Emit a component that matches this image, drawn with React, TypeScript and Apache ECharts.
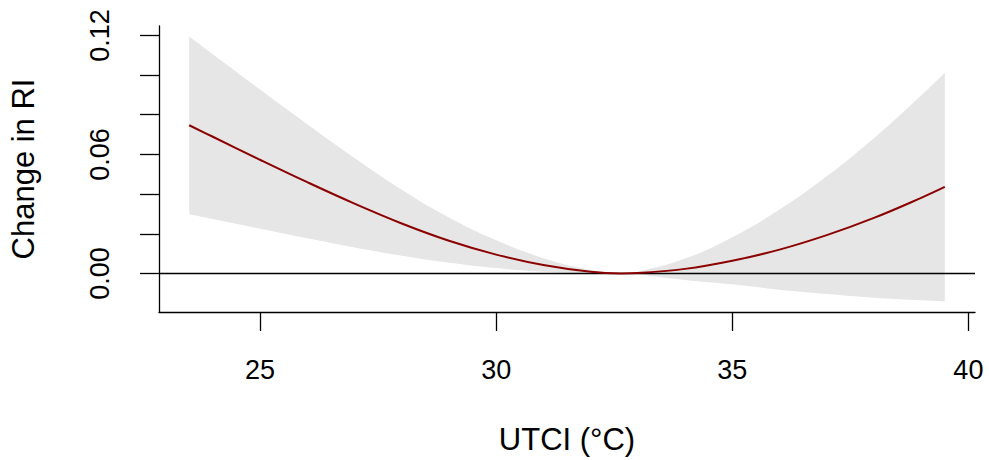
import React, { useEffect, useRef } from "react";
import * as echarts from "echarts";

const xs = [23.5, 24, 25, 26, 27, 28, 29, 30, 31, 32, 32.65, 33, 34, 35, 36, 37, 38, 39, 39.5];
const mid = [0.0747, 0.0689, 0.0573, 0.046, 0.0352, 0.0252, 0.0165, 0.0095, 0.0042, 0.0008, 0, 0.0002, 0.0023, 0.0064, 0.012, 0.0193, 0.028, 0.0381, 0.0436];
const upper = [0.1194, 0.1105, 0.0927, 0.0752, 0.0582, 0.0422, 0.0282, 0.0167, 0.0077, 0.0017, 0, 0.0009, 0.0075, 0.0183, 0.0322, 0.049, 0.0682, 0.0897, 0.1012];
const lower = [0.0298, 0.0274, 0.0225, 0.0177, 0.0131, 0.0089, 0.0054, 0.0027, 0.0009, 0.0001, 0, -0.0005, -0.0033, -0.0055, -0.0082, -0.0104, -0.0122, -0.0135, -0.0141];

const xTicks = [25, 30, 35, 40];
const yTicks = [0, 0.02, 0.04, 0.06, 0.08, 0.1, 0.12];
const yLabels = [0, 0.06, 0.12];

const FONT = "'Liberation Sans', Arial, Helvetica, sans-serif";

export default function App() {
  const ref = useRef<HTMLDivElement>(null);
  useEffect(() => {
    document.body.style.margin = "0";
    const chart = echarts.init(ref.current!, null, { renderer: "svg" });
    const x0 = xs[0];
    const x1 = xs[xs.length - 1];
    const xMin = x0 - 0.04 * (x1 - x0);
    const xMax = x1 + 0.04 * (x1 - x0);
    const yLo = Math.min(...lower);
    const yHi = Math.max(...upper);
    const ySpan = yHi - yLo;
    const yMin = yLo - 0.04 * ySpan;
    const yMax = yHi + 0.04 * ySpan;
    chart.setOption({
      animation: false,
      grid: { left: 158, top: 26, right: 14, bottom: 148 },
      xAxis: {
        type: "value",
        z: 10,
        min: xMin,
        max: xMax,
        name: "UTCI (°C)",
        nameLocation: "middle",
        nameGap: 112,
        nameTextStyle: { fontSize: 31, color: "#000", fontFamily: FONT },
        axisLine: { show: true, onZero: false, lineStyle: { color: "#000", width: 1.3 } },
        axisTick: { show: true, length: 19, customValues: xTicks, lineStyle: { color: "#000", width: 1.3 } },
        axisLabel: { show: true, customValues: xTicks, margin: 44, fontSize: 27, color: "#000", fontFamily: FONT },
        splitLine: { show: false },
      },
      yAxis: {
        type: "value",
        z: 10,
        min: yMin,
        max: yMax,
        name: "Change in RI",
        nameLocation: "middle",
        nameGap: 120,
        nameTextStyle: { fontSize: 31, color: "#000", fontFamily: FONT },
        axisLine: { show: true, onZero: false, lineStyle: { color: "#000", width: 1.3 } },
        axisTick: { show: true, length: 19, customValues: yTicks, lineStyle: { color: "#000", width: 1.3 } },
        axisLabel: {
          show: true,
          customValues: yLabels,
          rotate: 90,
          margin: 46,
          fontSize: 27,
          color: "#000",
          fontFamily: FONT,
          formatter: (v: number) => v.toFixed(2),
        },
        splitLine: { show: false },
      },
      series: [
        {
          type: "line",
          data: xs.map((x, i) => [x, upper[i]]),
          symbol: "none",
          smooth: 0.4,
          lineStyle: { width: 0, opacity: 0 },
          areaStyle: { color: "#E6E6E6", opacity: 1, origin: "start" },
          silent: true,
          z: 1,
        },
        {
          type: "line",
          data: xs.map((x, i) => [x, lower[i]]),
          symbol: "none",
          smooth: 0.4,
          lineStyle: { width: 0, opacity: 0 },
          areaStyle: { color: "#FFFFFF", opacity: 1, origin: "start" },
          silent: true,
          z: 2,
        },
        {
          type: "line",
          data: [[x0, yMin], [x0, lower[0]]],
          symbol: "none",
          lineStyle: { color: "#FFFFFF", width: 2 },
          silent: true,
          z: 2,
        },
        {
          type: "line",
          data: [[x1, yMin], [x1, lower[lower.length - 1]]],
          symbol: "none",
          lineStyle: { color: "#FFFFFF", width: 2 },
          silent: true,
          z: 2,
        },
        {
          type: "line",
          data: [[xMin, 0], [xMax, 0]],
          symbol: "none",
          lineStyle: { color: "#000", width: 1.4 },
          silent: true,
          z: 3,
        },
        {
          type: "line",
          data: xs.map((x, i) => [x, mid[i]]),
          symbol: "none",
          smooth: 0.4,
          lineStyle: { color: "#8B0000", width: 2 },
          silent: true,
          z: 4,
        },
      ],
    });
    return () => chart.dispose();
  }, []);
  return <div ref={ref} style={{ width: 989, height: 460 }} />;
}
